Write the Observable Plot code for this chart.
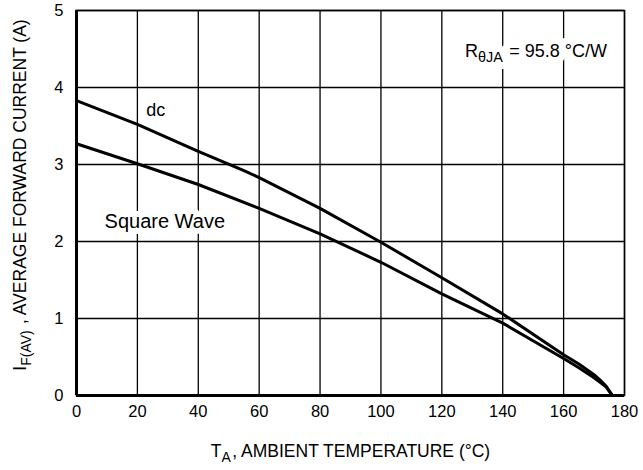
<!DOCTYPE html>
<html><head><meta charset="utf-8">
<script src="https://cdn.jsdelivr.net/npm/d3@7"></script>
<script src="https://cdn.jsdelivr.net/npm/@observablehq/plot@0.6"></script>
<style>body{margin:0;background:#fff}</style>
</head><body><div id="chart"></div><script>
const dcTemps = [0, 20, 40, 55, 60, 80, 100, 120, 140, 160, 165, 170, 172, 174, 176];
const dcValues = [3.83, 3.52, 3.17, 2.92, 2.83, 2.43, 1.99, 1.53, 1.06, 0.53, 0.41, 0.27, 0.2, 0.12, 0];
const sqTemps = [0, 20, 40, 60, 80, 100, 120, 140, 160, 165, 170, 172, 174, 176];
const sqValues = [3.27, 3.01, 2.74, 2.43, 2.10, 1.73, 1.32, 0.94, 0.48, 0.36, 0.23, 0.17, 0.11, 0];
const xTicks = [0, 20, 40, 60, 80, 100, 120, 140, 160, 180];
const yTicks = [0, 1, 2, 3, 4, 5];
const curveLabels = [
  {x: 26, y: 3.70, text: "dc", size: 18},
  {x: 29, y: 2.26, text: "Square Wave", size: 20}
];
const noteLabels = [
  {x: 127.6, y: 4.47, text: "R_{θJA} = 95.8 °C/W"}
];
const xLabel = "T_{A}, AMBIENT TEMPERATURE (°C)";
const yLabel = "I_{F(AV)} , AVERAGE FORWARD CURRENT (A)";

const dc = dcTemps.map((t, i) => ({t, v: dcValues[i]}));
const sq = sqTemps.map((t, i) => ({t, v: sqValues[i]}));
const FONT = '"Liberation Sans",Arial,Helvetica,sans-serif';

const plot = Plot.plot({
  width: 643, height: 470,
  marginLeft: 76, marginRight: 19, marginTop: 10, marginBottom: 75,
  style: {fontFamily: FONT, fontSize: "17px", background: "white", color: "black"},
  x: {domain: [0, 180], ticks: xTicks},
  y: {domain: [0, 5], ticks: yTicks},
  marks: [
    Plot.ruleX(xTicks, {stroke: "black", strokeWidth: 1.3}),
    Plot.ruleY(yTicks, {stroke: "black", strokeWidth: 1.3}),
    Plot.frame({stroke: "black", strokeWidth: 1.5}),
    Plot.ruleX([0], {stroke: "black", strokeWidth: 3}),
    Plot.ruleY([0], {stroke: "black", strokeWidth: 3}),
    Plot.line(dc, {x: "t", y: "v", stroke: "black", strokeWidth: 3}),
    Plot.line(sq, {x: "t", y: "v", stroke: "black", strokeWidth: 3}),
    // white halos behind labels
    Plot.text(curveLabels, {x: "x", y: "y", text: "text", textAnchor: "middle", fontSize: (d) => d.size, fill: "white", stroke: "white", strokeWidth: 12, strokeLinejoin: "round"}),
    Plot.text(noteLabels, {x: "x", y: "y", text: "text", textAnchor: "start", fontSize: 18, fill: "white", stroke: "white", strokeWidth: 14, strokeLinejoin: "round"}),
    Plot.text(curveLabels, {x: "x", y: "y", text: "text", textAnchor: "middle", fontSize: (d) => d.size, fill: "black"}),
    Plot.text(noteLabels, {x: "x", y: "y", text: "text", textAnchor: "start", fontSize: 18, fill: "black"}),
    Plot.axisX({ticks: xTicks, tickSize: 0, tickPadding: 10, fontSize: 16.5, label: null}),
    Plot.axisY({ticks: yTicks, tickSize: 0, tickPadding: 13, fontSize: 16.5, label: null, tickFormat: "d"}),
    Plot.text([xLabel], {frameAnchor: "bottom", dy: 56, lineAnchor: "middle", textAnchor: "middle", fontSize: 17.5, fill: "black"}),
    Plot.text([yLabel], {frameAnchor: "left", dx: -56, dy: -8, rotate: -90, lineAnchor: "middle", textAnchor: "middle", fontSize: 17.5, fill: "black"})
  ]
});

// subscripts
d3.select(plot).selectAll("text").each(function() {
  const s = this.textContent;
  if (!s.includes("_{")) return;
  const el = d3.select(this);
  el.selectAll("*").remove();
  el.text(null);
  const re = /_\{([^}]*)\}/g;
  let last = 0, m;
  while ((m = re.exec(s))) {
    if (m.index > last) el.append("tspan").text(s.slice(last, m.index));
    el.append("tspan").attr("dy", "0.35em").attr("font-size", "0.8em").text(m[1]);
    el.append("tspan").attr("dy", "-0.28em").text("\u200A");
    last = re.lastIndex;
  }
  if (last < s.length) el.append("tspan").text(s.slice(last));
});
document.getElementById("chart").appendChild(plot);
</script></body></html>
